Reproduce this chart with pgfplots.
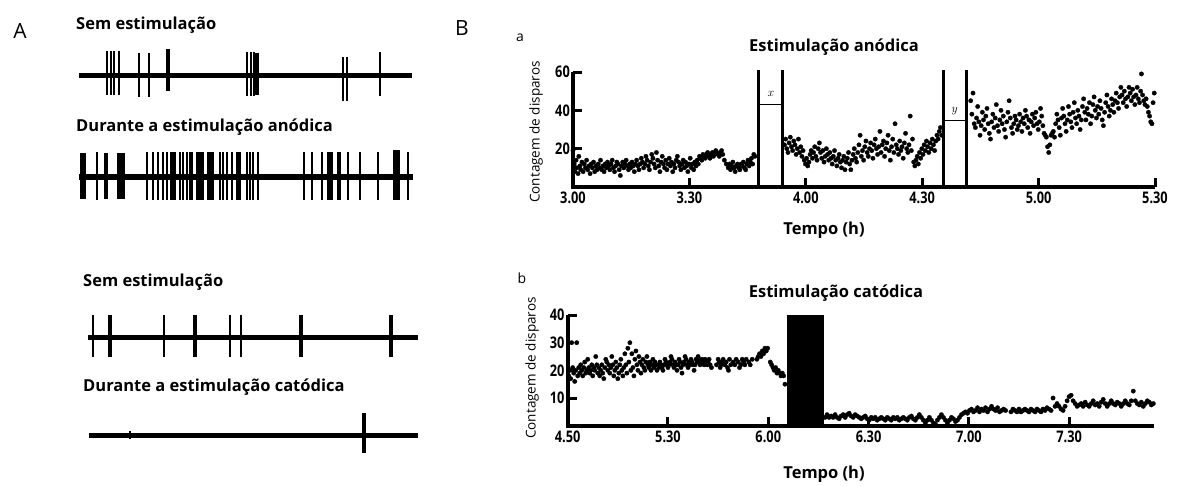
\documentclass[border=0pt]{standalone}
\usepackage{fontspec}
\setmainfont{Open Sans}
\newfontfamily\tickfont[FakeStretch=0.8]{Open Sans}
\usepackage{pgfplots}
\pgfplotsset{compat=1.18}
\pgfplotsset{
  panel/.style={scale only axis, clip=false,
    axis x line*=bottom, axis y line*=left,
    axis line style={draw=none},
    major tick length=0pt,
    xticklabel style={font=\tickfont\bfseries\fontsize{16}{18}\selectfont, inner sep=1pt, yshift=-4pt},
    yticklabel style={font=\tickfont\bfseries\fontsize{16}{18}\selectfont, inner sep=1pt, xshift=-2pt},
    /pgf/number format/assume math mode=true},
  dots/.style={only marks, mark=*, mark size=2.2pt, black, mark options={line width=0.3pt}},
}
\begin{document}
\begin{tikzpicture}
\useasboundingbox (0pt,0pt) rectangle (1182pt,-485pt);
% ---------------- Panel B a ----------------
\begin{axis}[panel, at={(573pt,-187pt)}, anchor=south west,
  width=582pt, height=115pt, xmin=0, xmax=150, ymin=0, ymax=60,
  xtick={0,30,60,90,120,150}, xticklabels={3.00,3.30,4.00,4.30,5.00,5.30},
  ytick={20,40,60}, yticklabels={20,40,60}]
% axis lines and ticks
\addplot[line width=4pt, black] coordinates {(0,60) (0,0) (150,0)};
\addplot[ycomb, line width=3pt, black] coordinates {(30,4.7) (60,4.7) (90,4.7) (120,4.7) (150,4.7)};
\addplot[xcomb, line width=3pt, black] coordinates {(2.3,20) (2.3,40) (2.3,60)};
\addplot[dots] coordinates {
(0.0,19) (0.3,12) (0.5,8) (0.8,14) (1.0,10) (1.3,7) (1.5,16) (1.8,11) (2.0,9) (2.3,13) (2.6,8) (2.9,12)
(3.2,10) (3.5,14) (3.8,9) (4.1,11) (4.4,7) (4.7,12) (5.0,10) (5.3,13) (5.6,8) (5.9,11) (6.2,9) (6.5,12)
(6.8,10) (7.1,14) (7.4,9) (7.7,11) (8.0,8) (8.3,12) (8.6,10) (8.9,13) (9.2,11) (9.5,9) (9.8,12) (10.1,14)
(10.4,10) (10.7,8) (11.0,11) (11.3,13) (11.6,12) (11.9,9) (12.2,6) (12.5,11) (12.8,13) (13.1,10) (13.4,12)
(13.7,14) (14.0,11) (14.3,9) (14.6,12) (14.9,10) (15.2,13) (15.5,11) (15.8,8) (16.1,12) (16.4,14) (16.7,11)
(17.0,9) (17.3,12) (17.6,15) (17.9,13) (18.2,10) (18.5,12) (18.8,16) (19.1,14) (19.4,11) (19.7,9) (20.0,13)
(20.3,17) (20.6,15) (20.9,12) (21.2,10) (21.5,18) (21.8,14) (22.1,11) (22.4,8) (22.7,13) (23.0,16) (23.3,12)
(23.6,10) (23.9,14) (24.2,9) (24.5,12) (24.8,15) (25.1,11) (25.4,13) (25.7,8) (26.0,12) (26.3,10) (26.6,14)
(26.9,16) (27.2,13) (27.5,11) (27.8,9) (28.1,12) (28.4,14) (28.7,10) (29.0,13) (29.3,11) (29.6,8) (29.9,12)
(30.2,15) (30.5,10) (30.8,12) (31.1,9) (31.4,13) (31.7,11) (32.0,14) (32.3,12) (32.6,16) (32.9,15) (33.2,14)
(33.5,17) (33.8,16) (34.1,15) (34.4,17) (34.7,18) (35.0,16) (35.3,15) (35.6,17) (35.9,18) (36.2,16) (36.5,17)
(36.8,19) (37.1,18) (37.4,17) (37.7,16) (38.0,18) (38.3,19) (38.6,17) (39.0,14) (39.5,12) (40.0,10) (40.3,12)
(40.6,9) (40.9,11) (41.2,13) (41.5,10) (41.8,8) (42.1,11) (42.4,12) (42.7,10) (43.0,9) (43.3,12) (43.6,11)
(43.9,13) (44.2,10) (44.5,9) (44.8,12) (45.1,14) (45.4,11) (45.7,13) (46.0,15) (46.3,12) (46.6,17) (46.9,16)
(54.5,22) (54.8,25) (55.1,20) (55.4,18) (55.7,23) (56.0,26) (56.3,21) (56.6,19) (56.9,24) (57.2,22) (57.5,17)
(57.8,20) (58.1,25) (58.4,18) (58.7,21) (59.0,16) (59.3,19) (59.6,14) (59.9,12) (60.2,15) (60.5,11) (60.8,13)
(61.1,17) (61.4,19) (61.7,15) (62.0,18) (62.3,21) (62.6,16) (62.9,14) (63.2,20) (63.5,23) (63.8,18) (64.1,15)
(64.4,19) (64.7,13) (65.0,16) (65.3,20) (65.6,17) (65.9,14) (66.2,18) (66.5,15) (66.8,12) (67.1,16) (67.4,19)
(67.7,14) (68.0,11) (68.3,15) (68.6,17) (68.9,13) (69.2,10) (69.5,14) (69.8,16) (70.1,9) (70.4,13) (70.7,15)
(71.0,18) (71.3,12) (71.6,9) (71.9,14) (72.2,17) (72.5,20) (72.8,15) (73.1,13) (73.4,18) (73.7,22) (74.0,27)
(74.3,16) (74.6,19) (74.9,14) (75.2,21) (75.5,24) (75.8,18) (76.1,16) (76.4,20) (76.7,23) (77.0,19) (77.3,15)
(77.6,22) (77.9,25) (78.2,20) (78.5,17) (78.8,21) (79.1,29) (79.4,18) (79.7,22) (80.0,24) (80.3,16) (80.6,20)
(80.9,23) (81.2,27) (81.5,19) (81.8,14) (82.1,21) (82.4,25) (82.7,18) (83.0,33) (83.3,22) (83.6,20) (83.9,17)
(84.2,24) (84.5,19) (84.8,21) (85.1,15) (85.4,23) (85.7,28) (86.0,20) (86.3,18) (86.6,22) (86.9,37) (87.2,19)
(87.5,25) (87.8,13) (88.1,11) (88.4,14) (88.7,16) (89.0,12) (89.3,18) (89.6,15) (89.9,20) (90.2,17) (90.5,22)
(90.8,19) (91.1,24) (91.4,21) (91.7,18) (92.0,23) (92.3,20) (92.6,25) (92.9,22) (93.2,19) (93.5,24) (93.8,27)
(94.1,25) (94.4,29) (94.7,31) (95.0,27)
(102.5,45) (102.8,38) (103.1,49) (103.4,33) (103.7,31) (104.0,36) (104.3,42) (104.6,34) (104.9,27) (105.2,32)
(105.5,39) (105.8,35) (106.1,30) (106.4,37) (106.7,41) (107.0,33) (107.3,28) (107.6,25) (107.9,34) (108.2,38)
(108.5,31) (108.8,36) (109.1,43) (109.4,32) (109.7,29) (110.0,35) (110.3,40) (110.6,33) (110.9,37) (111.2,30)
(111.5,26) (111.8,34) (112.1,39) (112.4,45) (112.7,36) (113.0,31) (113.3,28) (113.6,33) (113.9,37) (114.2,35)
(114.5,30) (114.8,32) (115.1,38) (115.4,34) (115.7,29) (116.0,36) (116.3,33) (116.6,40) (116.9,37) (117.2,31)
(117.5,35) (117.8,28) (118.1,34) (118.4,38) (118.7,32) (119.0,36) (119.3,39) (119.6,33) (119.9,30) (120.2,34)
(120.5,41) (120.8,37) (121.1,32) (121.4,28) (121.7,27) (122.0,26) (122.3,21) (122.6,18) (122.9,22) (123.2,27)
(123.5,28) (123.8,29) (124.1,26) (124.4,33) (124.7,38) (125.0,35) (125.3,31) (125.6,27) (125.9,36) (126.2,41)
(126.5,37) (126.8,33) (127.1,29) (127.4,35) (127.7,42) (128.0,38) (128.3,34) (128.6,31) (128.9,39) (129.2,44)
(129.5,36) (129.8,33) (130.1,40) (130.4,37) (130.7,30) (131.0,35) (131.3,42) (131.6,46) (131.9,39) (132.2,35)
(132.5,41) (132.8,38) (133.1,44) (133.4,33) (133.7,37) (134.0,43) (134.3,47) (134.6,40) (134.9,36) (135.2,42)
(135.5,38) (135.8,45) (136.1,41) (136.4,35) (136.7,32) (137.0,39) (137.3,44) (137.6,48) (137.9,42) (138.2,37)
(138.5,40) (138.8,46) (139.1,43) (139.4,39) (139.7,45) (140.0,49) (140.3,44) (140.6,41) (140.9,47) (141.2,52)
(141.5,48) (141.8,44) (142.1,50) (142.4,46) (142.7,42) (143.0,47) (143.3,52) (143.6,49) (143.9,45) (144.2,51)
(144.5,47) (144.8,43) (145.1,48) (145.4,52) (145.7,46) (146.0,44) (146.3,50) (146.5,59) (146.8,48) (147.1,45)
(147.4,43) (147.7,46) (148.0,42) (148.3,39) (148.6,37) (148.9,34) (149.2,33) (149.5,44) (149.8,49)
};
\addplot[line width=3pt] coordinates {(47.9,0) (47.9,61)};
\addplot[line width=3pt] coordinates {(54.0,0) (54.0,61)};
\addplot[line width=3pt] coordinates {(95.6,0) (95.6,61)};
\addplot[line width=3pt] coordinates {(101.3,0) (101.3,61)};
\addplot[line width=1pt] coordinates {(47.9,42.8) (54.0,42.8)};
\addplot[line width=1pt] coordinates {(95.6,34.6) (101.3,34.6)};
\node[font=\fontsize{12}{14}\selectfont] at (axis cs:51,48.5) {$x$};
\node[font=\fontsize{12}{14}\selectfont] at (axis cs:98.4,39.5) {$y$};
\end{axis}
% ---------------- Panel B b ----------------
\begin{axis}[panel, at={(567.7pt,-425.7pt)}, anchor=south west,
  width=586.3pt, height=110.7pt, xmin=0, xmax=175.4, ymin=0, ymax=40,
  xtick={0,30,60,90,120,150}, xticklabels={4.50,5.30,6.00,6.30,7.00,7.30},
  ytick={10,20,30,40}, yticklabels={10,20,30,40}]
\addplot[line width=4pt, black] coordinates {(0,40) (0,0) (175.4,0)};
\addplot[ycomb, line width=3pt, black] coordinates {(30,3.3) (60,3.3) (90,3.3) (120,3.3) (150,3.3)};
\addplot[xcomb, line width=3pt, black] coordinates {(2.7,10) (2.7,20) (2.7,40)};
\addplot[dots] coordinates {
(0.3,18) (0.6,20) (0.9,17) (1.2,30) (1.5,21) (1.8,19) (2.1,16) (2.4,20) (2.7,30) (3.0,18) (3.3,21) (3.6,19)
(3.9,22) (4.2,20) (4.5,18) (4.8,21) (5.1,23) (5.4,19) (5.7,20) (6.0,24) (6.3,21) (6.6,19) (6.9,20) (7.2,22)
(7.5,18) (7.8,21) (8.1,20) (8.4,25) (8.7,22) (9.0,19) (9.3,21) (9.6,18) (9.9,20) (10.2,22) (10.5,19) (10.8,17)
(11.1,21) (11.4,24) (11.7,23) (12.0,20) (12.3,22) (12.6,19) (12.9,21) (13.2,25) (13.5,22) (13.8,18) (14.1,20)
(14.4,23) (14.7,21) (15.0,17) (15.3,19) (15.6,22) (15.9,24) (16.2,20) (16.5,18) (16.8,21) (17.1,26) (17.4,22)
(17.7,19) (18.0,28) (18.3,23) (18.6,30) (18.9,20) (19.2,26) (19.5,21) (19.8,18) (20.1,24) (20.4,27) (20.7,22)
(21.0,20) (21.3,25) (21.6,23) (21.9,19) (22.2,22) (22.5,24) (22.8,21) (23.1,20) (23.4,23) (23.7,25) (24.0,22)
(24.3,21) (24.6,23) (24.9,20) (25.2,22) (25.5,24) (25.8,21) (26.1,23) (26.4,22) (26.7,20) (27.0,22) (27.3,21)
(27.6,23) (27.9,22) (28.2,21) (28.5,20) (28.8,22) (29.1,24) (29.4,23) (29.7,22) (30.0,21) (30.3,22) (30.6,23)
(30.9,25) (31.2,24) (31.5,22) (31.8,21) (32.1,23) (32.4,22) (32.7,20) (33.0,22) (33.3,24) (33.6,23) (33.9,21)
(34.2,19) (34.5,22) (34.8,23) (35.1,25) (35.4,24) (35.7,22) (36.0,21) (36.3,23) (36.6,22) (36.9,24) (37.2,23)
(37.5,22) (37.8,20) (38.1,22) (38.4,24) (38.7,23) (39.0,25) (39.3,24) (39.6,22) (39.9,23) (40.2,24) (40.5,23)
(40.8,22) (41.1,24) (41.4,23) (41.7,22) (42.0,23) (42.3,24) (42.6,22) (43.0,21) (44.5,22) (45.0,24) (45.3,23)
(45.6,21) (45.9,22) (46.2,23) (46.5,24) (47.0,22) (47.4,23) (47.8,21) (48.1,20) (48.4,24) (48.8,22) (49.5,23)
(50.0,22) (50.4,24) (51.0,23) (51.4,21) (51.8,22) (52.2,24) (52.6,23) (53.0,22) (53.4,24) (54.2,23) (54.6,22)
(55.2,24) (56.6,24) (57.0,25) (57.4,26) (57.8,25) (58.2,27) (58.6,26) (59.0,28) (59.4,27) (59.8,28)
(60.6,23) (61.0,22) (61.4,21) (61.8,20) (62.2,21) (62.6,19) (63.0,20) (63.4,19) (63.8,18) (64.2,19) (64.6,18) (65.0,15)
(77.0,3) (77.6,4) (78.2,3) (78.8,3.5) (79.4,3) (80.0,4) (80.6,3) (81.2,2.5) (81.8,3.5) (82.4,4) (83.0,3) (83.6,4)
(84.2,4.5) (84.8,3.5) (85.4,3) (86.0,4) (86.6,3.5) (87.2,3) (87.8,2.5) (88.4,3) (89.0,3.5) (89.6,2.5) (90.2,2)
(90.8,3) (91.4,2.5) (92.0,3) (92.6,2) (93.2,2.5) (93.8,3) (94.4,2.5) (95.0,2) (95.6,3) (96.2,2.5) (96.8,2)
(97.4,3) (98.0,2.5) (98.6,3) (99.2,2) (99.8,2.5) (100.4,3) (101.0,2.5) (101.6,2) (102.2,3) (102.8,3.5) (103.4,2.5)
(104.0,2) (104.6,3) (105.2,4) (105.8,3) (106.4,2) (107.0,1) (107.6,2) (108.2,3) (108.8,2) (109.4,1) (110.0,0.5)
(110.6,2) (111.2,3) (111.8,4) (112.4,3) (113.0,2) (113.6,1) (114.2,2) (114.8,3) (115.4,2.5) (116.0,1.5) (116.6,2)
(117.2,3) (117.8,4) (118.4,4.5) (119.0,5) (119.6,4.5) (120.2,5.5) (120.8,6) (121.4,5) (122.0,5.5) (122.6,6.5)
(123.2,5) (123.8,6) (124.4,5.5) (125.0,6.5) (125.6,5) (126.2,6) (126.8,7) (127.4,6) (128.0,5.5) (128.6,6.5)
(129.2,5) (129.8,5.5) (130.4,6) (131.0,5.5) (132.6,5) (133.2,6) (133.8,5.5) (134.4,5) (135.0,6) (135.6,5)
(136.2,5.5) (136.8,6) (137.4,5.5) (138.0,5) (138.6,6) (139.2,5.5) (139.8,5) (140.4,6) (141.0,5.5) (141.6,5)
(142.2,6) (142.8,5.5) (143.4,6.5) (144.0,6) (144.6,5.5) (145.2,10) (145.8,7) (146.4,8) (147.0,7) (147.6,6)
(148.2,5.5) (148.8,7) (149.4,9) (150.0,10.5) (150.6,11) (151.2,9) (151.8,8) (152.4,7) (153.0,7.5) (153.6,8)
(154.2,7) (154.8,8.5) (155.4,7.5) (156.0,7) (156.6,8) (157.2,9) (157.8,7.5) (158.4,8) (159.0,7) (159.6,8.5)
(160.2,9.5) (160.8,8) (161.4,7) (162.0,8) (162.6,9) (163.2,8) (163.8,7.5) (164.4,8.5) (165.0,8) (165.6,7)
(166.2,8) (166.8,9) (167.4,8) (168.0,7.5) (168.6,9) (169.2,12.5) (169.8,9) (170.4,8) (171.0,7.5) (171.6,8.5)
(172.2,7) (172.8,8) (173.4,9) (174.0,8.5) (174.6,7.5) (175.2,8)
};
\addplot[fill=black, draw=black] coordinates {(65.6,0) (65.6,40) (76.3,40) (76.3,0)} -- cycle;
\end{axis}
% ---------------- Canvas: panel A traces and all texts ----------------
\begin{axis}[at={(0pt,0pt)}, anchor=north west, scale only axis, width=1182pt, height=485pt,
  xmin=0, xmax=1182, ymin=0, ymax=485, y dir=reverse, hide axis, clip=false]
% trace 1
\addplot[line width=5pt] coordinates {(79,75) (412,75)};
\addplot[only marks, mark=|, mark size=22pt, mark options={line width=1.8pt}] coordinates {
(107,73) (111,73) (114,73) (119,73) (139,75) (149,75) (247,74) (251,74) (254,74) (343,79) (347,79) (380,74)};
\addplot[only marks, mark=|, mark size=21pt, mark options={line width=3.6pt}] coordinates {(168,70) (257,74)};
% trace 2
\addplot[line width=6pt] coordinates {(79,177) (413,177)};
\addplot[only marks, mark=|, mark size=24pt, mark options={line width=1.8pt}] coordinates {
(97,176) (147,176) (153,176) (158,176) (163,176) (167,176) (172,176) (175,176) (180,176) (183,176) (187,176)
(190,176) (192,176) (197,176) (200,176) (203,176) (208,176) (210,176) (213,176) (220,176) (223,176) (227,176)
(232,176) (238,176) (240,176) (247,176) (250,176) (253,176) (258,176) (304,176) (312,176) (322,176) (328,176)
(331,176) (338,176) (340,176) (348,176) (360,176) (378,176) (408,176)};
\addplot[only marks, mark=|, mark size=24pt, mark options={line width=3.2pt}] coordinates {
(172,176) (200,176) (210,176) (238,176) (331,176)};
\addplot[fill=black, draw=none] coordinates {(80,153) (86,153) (86,199) (80,199)} -- cycle;
\addplot[fill=black, draw=none] coordinates {(104,153) (108,153) (108,199) (104,199)} -- cycle;
\addplot[fill=black, draw=none] coordinates {(117,153) (125,153) (125,199) (117,199)} -- cycle;
\addplot[fill=black, draw=none] coordinates {(393,150) (400,150) (400,200) (393,200)} -- cycle;
% trace 3
\addplot[line width=5pt] coordinates {(88,337) (418,337)};
\addplot[only marks, mark=|, mark size=21pt, mark options={line width=1.8pt}] coordinates {
(93,336) (164,336) (230,336) (241,336)};
\addplot[only marks, mark=|, mark size=21pt, mark options={line width=3.4pt}] coordinates {
(110,336) (195,336) (301,336) (391,336)};
% trace 4
\addplot[line width=5pt] coordinates {(89,435) (418,435)};
\addplot[only marks, mark=|, mark size=20pt, mark options={line width=3.6pt}] coordinates {(364,433)};
\addplot[only marks, mark=|, mark size=4pt, mark options={line width=1.6pt}] coordinates {(130,435)};
% texts
\node[font=\fontsize{21}{24}\selectfont] at (axis cs:20,31) {A};
\node[font=\fontsize{21}{24}\selectfont] at (axis cs:462,28) {B};
\node[font=\fontsize{14}{16}\selectfont] at (axis cs:520,38) {a};
\node[font=\fontsize{14}{16}\selectfont] at (axis cs:522,278) {b};
\node[font=\bfseries\fontsize{16.5}{19}\selectfont, anchor=west, inner sep=0pt] at (axis cs:76,25) {Sem estimulação};
\node[font=\bfseries\fontsize{16.5}{19}\selectfont, anchor=west, inner sep=0pt] at (axis cs:76,127) {Durante a estimulação anódica};
\node[font=\bfseries\fontsize{16.5}{19}\selectfont, anchor=west, inner sep=0pt] at (axis cs:83,282) {Sem estimulação};
\node[font=\bfseries\fontsize{16.5}{19}\selectfont, anchor=west, inner sep=0pt] at (axis cs:83,387) {Durante a estimulação catódica};
\node[font=\bfseries\fontsize{16.5}{19}\selectfont] at (axis cs:834,47) {Estimulação anódica};
\node[font=\bfseries\fontsize{16.5}{19}\selectfont] at (axis cs:836,293) {Estimulação catódica};
\node[font=\bfseries\fontsize{16.5}{19}\selectfont] at (axis cs:824,230) {Tempo (h)};
\node[font=\bfseries\fontsize{16.5}{19}\selectfont] at (axis cs:824,474) {Tempo (h)};
\node[font=\fontsize{13.5}{16}\selectfont, rotate=90] at (axis cs:536,132) {Contagem de disparos};
\node[font=\fontsize{13.5}{16}\selectfont, rotate=90] at (axis cs:532,368) {Contagem de disparos};
\end{axis}
\end{tikzpicture}
\end{document}
